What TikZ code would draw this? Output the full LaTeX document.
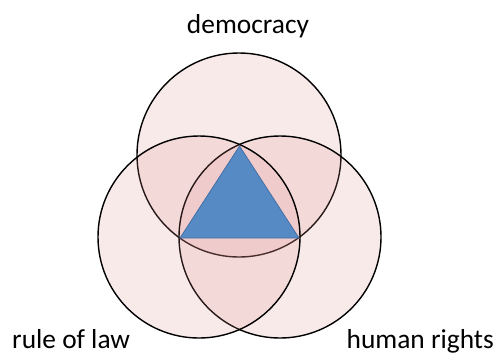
\documentclass[tikz,border=0pt]{standalone}
\usepackage{fontspec}
\setmainfont{Carlito}
\definecolor{vennpink}{RGB}{222,140,140}
\definecolor{triblue}{RGB}{86,138,196}
\definecolor{triedge}{RGB}{70,112,165}

\begin{document}
\begin{tikzpicture}[x=1bp, y=-1bp]
		\useasboundingbox (0,0) rectangle (498,356);
		\tikzset{
			venn/.style={draw=black, line width=1.4bp, fill=vennpink, fill opacity=0.18},
			vennlabel/.style={inner sep=0pt, font=\fontsize{27.5}{30}\selectfont}
		}

		% Centres of the three circles
		\coordinate (cdem) at (239,155);
		\coordinate (claw) at (199,237);
		\coordinate (crights) at (280,237);

		% Draw the circles
		\draw[venn] (cdem) circle[radius=102];
		\draw[venn] (crights) circle[radius=101];
		\draw[venn] (claw) circle[radius=101];

		% Corners of the triangle, where two circles cross
		\coordinate (apex) at (239.5,146);
		\coordinate (tril) at (180,238);
		\coordinate (trir) at (299,238);

		% Triangle in the middle
		\draw[fill=triblue, draw=triedge, line width=0.8bp] (apex) -- (tril) -- (trir) -- cycle;

		% Labels
		\node[vennlabel, anchor=base] (democracy) at (248,33) {democracy};
		\node[vennlabel, anchor=base west] (law) at (12,348) {rule of law};
		\node[vennlabel, anchor=base east] (rights) at (494,348) {human rights};
	\end{tikzpicture}
\end{document}
